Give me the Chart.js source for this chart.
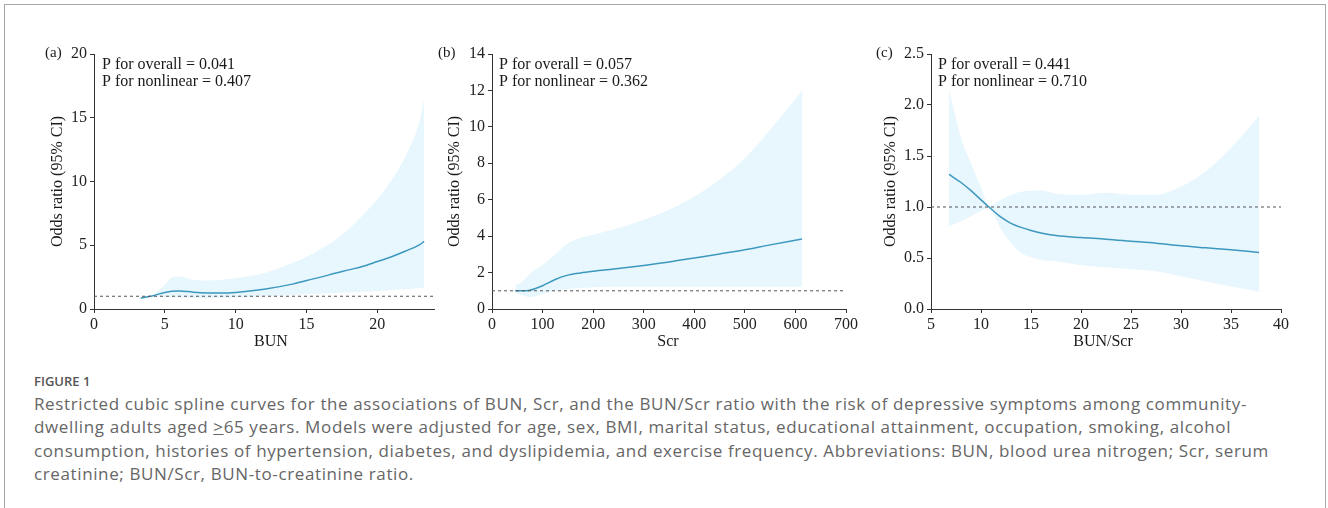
<!DOCTYPE html>
<html>
<head>
<meta charset="utf-8">
<script src="https://cdn.jsdelivr.net/npm/chart.js@4.4.1/dist/chart.umd.min.js"></script>
<style>
  html, body { margin: 0; padding: 0; background: #fff; }
  body { width: 1328px; height: 508px; position: relative; overflow: hidden; }
  .frame { position: absolute; left: 4px; top: 4px; width: 1322px; height: 520px;
           border: 1px solid #a8a8a8; border-bottom: none; box-sizing: border-box; }
  canvas { position: absolute; top: 0; }
  #chartA { left: 0px; }
  #chartB { left: 430px; }
  #chartC { left: 860px; }
  .figlabel { position: absolute; left: 34px; top: 373px; font-family: "Open Sans", sans-serif;
              font-weight: 600; font-size: 13px; color: #555; line-height: 16px; }
  .caption { position: absolute; left: 34px; top: 392px; font-family: "Open Sans", sans-serif;
             font-size: 17px; letter-spacing: 0.62px; line-height: 23.3px; color: #666; white-space: nowrap; }
</style>
</head>
<body>
<div class="frame"></div>
<canvas id="chartA" width="460" height="360"></canvas>
<canvas id="chartB" width="450" height="360"></canvas>
<canvas id="chartC" width="460" height="360"></canvas>
<div class="figlabel">FIGURE 1</div>
<div class="caption">Restricted cubic spline curves for the associations of BUN, Scr, and the BUN/Scr ratio with the risk of depressive symptoms among community-<br>dwelling adults aged <u style="text-decoration-thickness:1px;text-underline-offset:1px">&gt;</u>65 years. Models were adjusted for age, sex, BMI, marital status, educational attainment, occupation, smoking, alcohol<br>consumption, histories of hypertension, diabetes, and dyslipidemia, and exercise frequency. Abbreviations: BUN, blood urea nitrogen; Scr, serum<br>creatinine; BUN/Scr, BUN-to-creatinine ratio.</div>

<script>
// (a) BUN
const bunX     = [3.3, 4, 5, 5.5, 6, 7, 8, 9, 10, 12, 14, 15, 16, 17, 18, 19, 20, 21, 22, 23, 23.3];
const bunOR    = [0.85, 1.0, 1.3, 1.4, 1.42, 1.32, 1.26, 1.25, 1.3, 1.55, 1.95, 2.24, 2.5, 2.8, 3.07, 3.35, 3.72, 4.1, 4.55, 5.05, 5.3];
const bunUpper = [0.95, 1.05, 1.9, 2.5, 2.55, 2.3, 2.24, 2.3, 2.42, 2.8, 3.6, 4.1, 4.7, 5.4, 6.3, 7.4, 8.6, 10.1, 12.0, 14.8, 16.5];
const bunLower = [0.75, 0.97, 0.95, 0.92, 0.9, 0.87, 0.85, 0.86, 0.9, 1.0, 1.1, 1.15, 1.2, 1.25, 1.3, 1.35, 1.42, 1.48, 1.55, 1.65, 1.68];

// (b) Scr
const scrX     = [46, 60, 75, 100, 125, 150, 175, 200, 250, 300, 350, 400, 450, 500, 550, 613];
const scrOR    = [1.0, 1.0, 1.03, 1.28, 1.62, 1.86, 1.98, 2.07, 2.22, 2.39, 2.58, 2.8, 3.02, 3.25, 3.52, 3.84];
const scrUpper = [1.35, 1.5, 1.95, 2.4, 3.0, 3.6, 3.9, 4.08, 4.45, 4.9, 5.45, 6.18, 7.1, 8.28, 9.84, 12.0];
const scrLower = [0.9, 0.75, 0.65, 0.82, 1.0, 1.1, 1.15, 1.2, 1.22, 1.22, 1.22, 1.22, 1.22, 1.22, 1.22, 1.22];

// (c) BUN/Scr
const ratioX     = [6.8, 8, 9, 10, 10.8, 12, 13, 14, 15, 16, 17.5, 20, 22.5, 25, 27.5, 30, 32.5, 35, 37.8];
const ratioOR    = [1.32, 1.24, 1.16, 1.07, 1.0, 0.9, 0.84, 0.8, 0.77, 0.745, 0.72, 0.70, 0.685, 0.665, 0.645, 0.62, 0.60, 0.58, 0.555];
const ratioUpper = [2.15, 1.68, 1.43, 1.19, 1.01, 1.07, 1.12, 1.15, 1.16, 1.165, 1.13, 1.12, 1.14, 1.12, 1.12, 1.2, 1.35, 1.58, 1.89];
const ratioLower = [0.81, 0.86, 0.91, 0.96, 0.99, 0.78, 0.65, 0.55, 0.51, 0.48, 0.467, 0.43, 0.41, 0.39, 0.37, 0.32, 0.27, 0.22, 0.17];

const pTextA = ["P for overall = 0.041", "P for nonlinear = 0.407"];
const pTextB = ["P for overall = 0.057", "P for nonlinear = 0.362"];
const pTextC = ["P for overall = 0.441", "P for nonlinear = 0.710"];

const serif = '"Liberation Serif", "Times New Roman", serif';
const lineColor = '#3d98bf';
const bandColor = 'rgb(232,247,253)';

const panelText = {
  id: 'panelText',
  afterDraw(chart, args, opts) {
    const ctx = chart.ctx;
    const area = chart.chartArea;
    ctx.save();
    ctx.fillStyle = '#1a1a1a';
    ctx.textBaseline = 'middle';
    ctx.font = '15px ' + serif;
    ctx.textAlign = 'left';
    ctx.fillText(opts.letter, opts.letterX, 53);
    ctx.font = '16px ' + serif;
    opts.lines.forEach((t, i) => ctx.fillText(t, opts.pX, 65 + i * 17));
    ctx.textAlign = 'center';
    ctx.fillText(opts.xTitle, opts.xTitleX, area.bottom + 33);
    ctx.translate(opts.yTitleX, (area.top + area.bottom) / 2);
    ctx.rotate(-Math.PI / 2);
    ctx.fillText('Odds ratio (95% CI)', 0, 0);
    ctx.restore();
  }
};

function pts(xs, ys) {
  return xs.map((x, i) => ({ x: x, y: ys[i] }));
}

function makeChart(id, cfg) {
  const axisStyle = {
    grid: { display: true, drawOnChartArea: false, drawTicks: true, tickLength: 4, color: '#333' },
    border: { display: true, color: '#333', width: 1 }
  };
  return new Chart(document.getElementById(id), {
    type: 'line',
    data: {
      datasets: [
        { data: pts(cfg.x, cfg.upper), borderWidth: 0, pointRadius: 0, fill: '+1',
          backgroundColor: bandColor, cubicInterpolationMode: 'monotone', order: 10 },
        { data: pts(cfg.x, cfg.lower), borderWidth: 0, pointRadius: 0, fill: false,
          cubicInterpolationMode: 'monotone', order: 9 },
        { data: pts(cfg.x, cfg.or), borderColor: lineColor, borderWidth: 1.5, pointRadius: 0,
          fill: false, cubicInterpolationMode: 'monotone', order: 2 },
        { data: [{ x: cfg.xMin, y: 1 }, { x: cfg.xMax, y: 1 }], borderColor: '#555', borderWidth: 1,
          borderDash: [3, 3], pointRadius: 0, fill: false, order: 1 }
      ]
    },
    options: {
      responsive: false,
      animation: false,
      layout: { padding: { left: 0, top: 54, right: cfg.padRight, bottom: 0 } },
      plugins: {
        legend: { display: false },
        tooltip: { enabled: false },
        panelText: cfg.text
      },
      scales: {
        x: Object.assign({
          type: 'linear', min: cfg.xMin, max: cfg.xMax,
          ticks: { stepSize: cfg.xStep, padding: 2, color: '#222', font: { family: serif, size: 16 } },
          afterBuildTicks: s => { s.ticks = s.ticks.filter(t => Math.abs(((t.value - cfg.xMin) / cfg.xStep) % 1) < 1e-6); },
          afterFit: s => { s.height = 51; }
        }, axisStyle),
        y: Object.assign({
          type: 'linear', min: 0, max: cfg.yMax,
          ticks: { stepSize: cfg.yStep, padding: 3, color: '#222', font: { family: serif, size: 16 },
                   callback: v => cfg.yDec ? v.toFixed(cfg.yDec) : v },
          afterFit: s => { s.width = cfg.yWidth; }
        }, axisStyle)
      }
    },
    plugins: [panelText]
  });
}

makeChart('chartA', {
  x: bunX, or: bunOR, upper: bunUpper, lower: bunLower,
  xMin: 0, xMax: 24, xStep: 5, yMax: 20, yStep: 5, yDec: 0,
  yWidth: 94, padRight: 26,
  text: { letter: '(a)', letterX: 45, lines: pTextA, pX: 102, yTitleX: 58, xTitle: 'BUN', xTitleX: 271 }
});

makeChart('chartB', {
  x: scrX, or: scrOR, upper: scrUpper, lower: scrLower,
  xMin: 0, xMax: 700, xStep: 100, yMax: 14, yStep: 2, yDec: 0,
  yWidth: 62, padRight: 34,
  text: { letter: '(b)', letterX: 8, lines: pTextB, pX: 69, yTitleX: 25, xTitle: 'Scr', xTitleX: 238 }
});

makeChart('chartC', {
  x: ratioX, or: ratioOR, upper: ratioUpper, lower: ratioLower,
  xMin: 5, xMax: 40, xStep: 5, yMax: 2.5, yStep: 0.5, yDec: 1,
  yWidth: 71, padRight: 39,
  text: { letter: '(c)', letterX: 16, lines: pTextC, pX: 78, yTitleX: 31, xTitle: 'BUN/Scr', xTitleX: 243 }
});
</script>
</body>
</html>
